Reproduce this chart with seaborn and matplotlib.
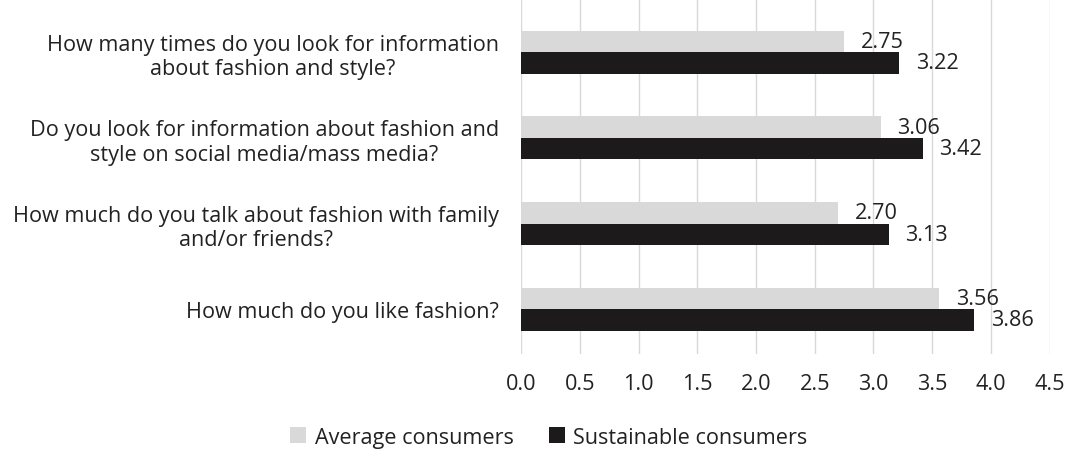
import pandas as pd
import seaborn as sns
import matplotlib.pyplot as plt

# data
questions = [
    "How many times do you look for information\nabout fashion and style?",
    "Do you look for information about fashion and\nstyle on social media/mass media?",
    "How much do you talk about fashion with family\nand/or friends?",
    "How much do you like fashion?",
]
average_consumers = [2.75, 3.06, 2.70, 3.56]
sustainable_consumers = [3.22, 3.42, 3.13, 3.86]
series_names = ["Average consumers", "Sustainable consumers"]

df = pd.DataFrame({
    "question": questions * 2,
    "score": average_consumers + sustainable_consumers,
    "group": [series_names[0]] * 4 + [series_names[1]] * 4,
})

sns.set_theme(style="white")
plt.rcParams["font.family"] = ["Open Sans", "DejaVu Sans"]

FS = 15.6
TXT = "#222222"

fig = plt.figure(figsize=(10.7, 4.52), dpi=100)
ax = fig.add_axes([0.487, 0.215, 0.494, 0.785])

sns.barplot(data=df, y="question", x="score", hue="group", orient="h",
            palette=["#d9d9d9", "#1c1a1a"], width=0.5, saturation=1,
            linewidth=0, gap=0, ax=ax, legend=True)

# value labels
for cont in ax.containers:
    ax.bar_label(cont, fmt="%.2f", padding=12, fontsize=FS, color=TXT)

ax.set_xlim(0, 4.5)
ax.set_ylim(3.52, -0.62)
ax.set_xticks([i * 0.5 for i in range(10)])
ax.set_xticklabels([f"{i * 0.5:.1f}" for i in range(10)], fontsize=FS, color=TXT)
ax.tick_params(axis="x", pad=14, length=0)
ax.tick_params(axis="y", length=0, pad=16)
for lbl in ax.get_yticklabels():
    lbl.set_fontsize(FS)
    lbl.set_color(TXT)
    lbl.set_multialignment("center")
ax.set_xlabel("")
ax.set_ylabel("")
ax.grid(axis="x", color="#d9d9d9", linewidth=1)
ax.set_axisbelow(True)
for s in ax.spines.values():
    s.set_visible(False)

handles, labels = ax.get_legend_handles_labels()
ax.get_legend().remove()
fig.legend(handles, labels, loc="center", bbox_to_anchor=(0.513, 0.03), ncol=2,
           frameon=False, fontsize=FS, handlelength=0.75, handleheight=0.75,
           columnspacing=1.6, handletextpad=0.4)
for t in fig.legends[0].get_texts():
    t.set_color(TXT)

fig.savefig("out.png", dpi=100)
